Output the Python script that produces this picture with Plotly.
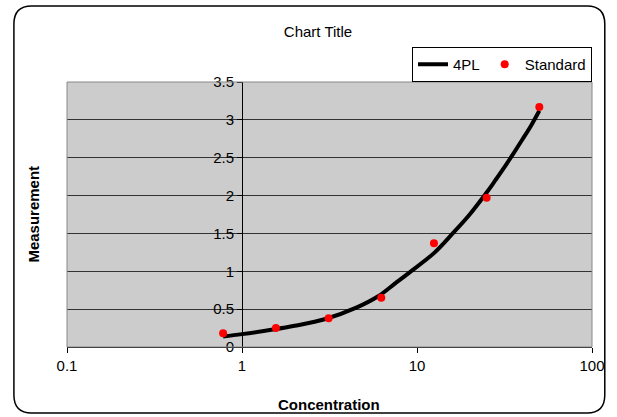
import plotly.graph_objects as go

# Data
std_conc = [0.78, 1.5625, 3.125, 6.25, 12.5, 25, 50]
std_meas = [0.18, 0.25, 0.38, 0.65, 1.37, 1.97, 3.17]

fit_conc = [0.78, 1.0, 1.5, 2.0, 3.0, 4.5, 6.0, 7.5, 9.0, 12.5, 16, 20, 25, 28, 30, 35, 40, 45, 50]
fit_meas = [0.138, 0.17, 0.23, 0.28, 0.37, 0.52, 0.67, 0.84, 0.98, 1.24, 1.5, 1.75, 2.04, 2.2, 2.3, 2.53, 2.74, 2.93, 3.12]

x_ticks = [0.1, 1, 10, 100]
x_ticktext = ["0.1", "1", "10", "100"]
y_ticks = [0, 0.5, 1, 1.5, 2, 2.5, 3, 3.5]
y_ticktext = ["0", "0.5", "1", "1.5", "2", "2.5", "3", "3.5"]

W, H = 617, 417
L, R, T, B = 67, 16, 82, 70
PW, PH = W - L - R, H - T - B

def px(x):
    return (x - L) / PW

def py(y):
    return (H - B - y) / PH

FONT = "Liberation Sans, Arial, sans-serif"

fig = go.Figure()
fig.add_trace(go.Scatter(x=fit_conc, y=fit_meas, mode="lines", name="4PL",
                         line=dict(color="black", width=4, shape="spline", smoothing=1.0)))
fig.add_trace(go.Scatter(x=std_conc, y=std_meas, mode="markers", name="Standard",
                         marker=dict(color="#FF0000", size=8)))

# outer rounded border
x0, x1, y0, y1, r = 13, 614, 6, 413, 18
path = (f"M {px(x0 + r)} {py(y0)} L {px(x1 - r)} {py(y0)} "
        f"Q {px(x1)} {py(y0)} {px(x1)} {py(y0 + r)} "
        f"L {px(x1)} {py(y1 - r)} Q {px(x1)} {py(y1)} {px(x1 - r)} {py(y1)} "
        f"L {px(x0 + r)} {py(y1)} Q {px(x0)} {py(y1)} {px(x0)} {py(y1 - r)} "
        f"L {px(x0)} {py(y0 + r)} Q {px(x0)} {py(y0)} {px(x0 + r)} {py(y0)} Z")

fig.update_layout(
    width=W, height=H,
    margin=dict(l=L, r=R, t=T, b=B),
    paper_bgcolor="white",
    plot_bgcolor="#CCCCCC",
    font=dict(family=FONT, size=15, color="black"),
    title=dict(text="Chart Title", x=318 / W, xref="container", xanchor="center",
               y=1 - 32 / H, yref="container", yanchor="middle",
               font=dict(size=15, family=FONT)),
    showlegend=True,
    legend=dict(orientation="h", x=px(601), xanchor="right", y=py(47), yanchor="top",
                bordercolor="black", borderwidth=1, bgcolor="white",
                font=dict(size=15, family=FONT), itemwidth=30),
    xaxis=dict(type="log", range=[-1, 2], tickvals=x_ticks, ticktext=x_ticktext,
               showgrid=False, zeroline=False, showline=True, linecolor="black",
               linewidth=1, ticks="outside", ticklen=5, tickcolor="black",
               tickfont=dict(size=15)),
    yaxis=dict(range=[0, 3.5], tickvals=y_ticks, ticktext=y_ticktext,
               anchor="free", position=1 / 3, showgrid=True, gridcolor="#333333",
               gridwidth=1, zeroline=False, showline=True, linecolor="black",
               linewidth=1, ticks="outside", ticklen=5, tickcolor="black",
               tickfont=dict(size=15)),
    shapes=[
        dict(type="rect", xref="paper", yref="paper", x0=0, x1=1, y0=0, y1=1,
             line=dict(color="#888888", width=1), fillcolor="rgba(0,0,0,0)", layer="above"),
        dict(type="path", xref="paper", yref="paper", path=path,
             line=dict(color="black", width=1.5), fillcolor="rgba(0,0,0,0)"),
    ],
    annotations=[
        dict(text="<b>Measurement</b>", xref="paper", yref="paper", x=px(32), y=py(214),
             textangle=-90, showarrow=False, font=dict(size=15, family=FONT),
             xanchor="center", yanchor="middle"),
        dict(text="<b>Concentration</b>", xref="paper", yref="paper", x=px(333), y=py(404),
             showarrow=False, font=dict(size=15, family=FONT),
             xanchor="center", yanchor="middle"),
    ],
)

fig.write_html("out.html", config={"displayModeBar": False},
               post_script="document.body.style.margin='0';document.body.style.overflow='hidden';")
